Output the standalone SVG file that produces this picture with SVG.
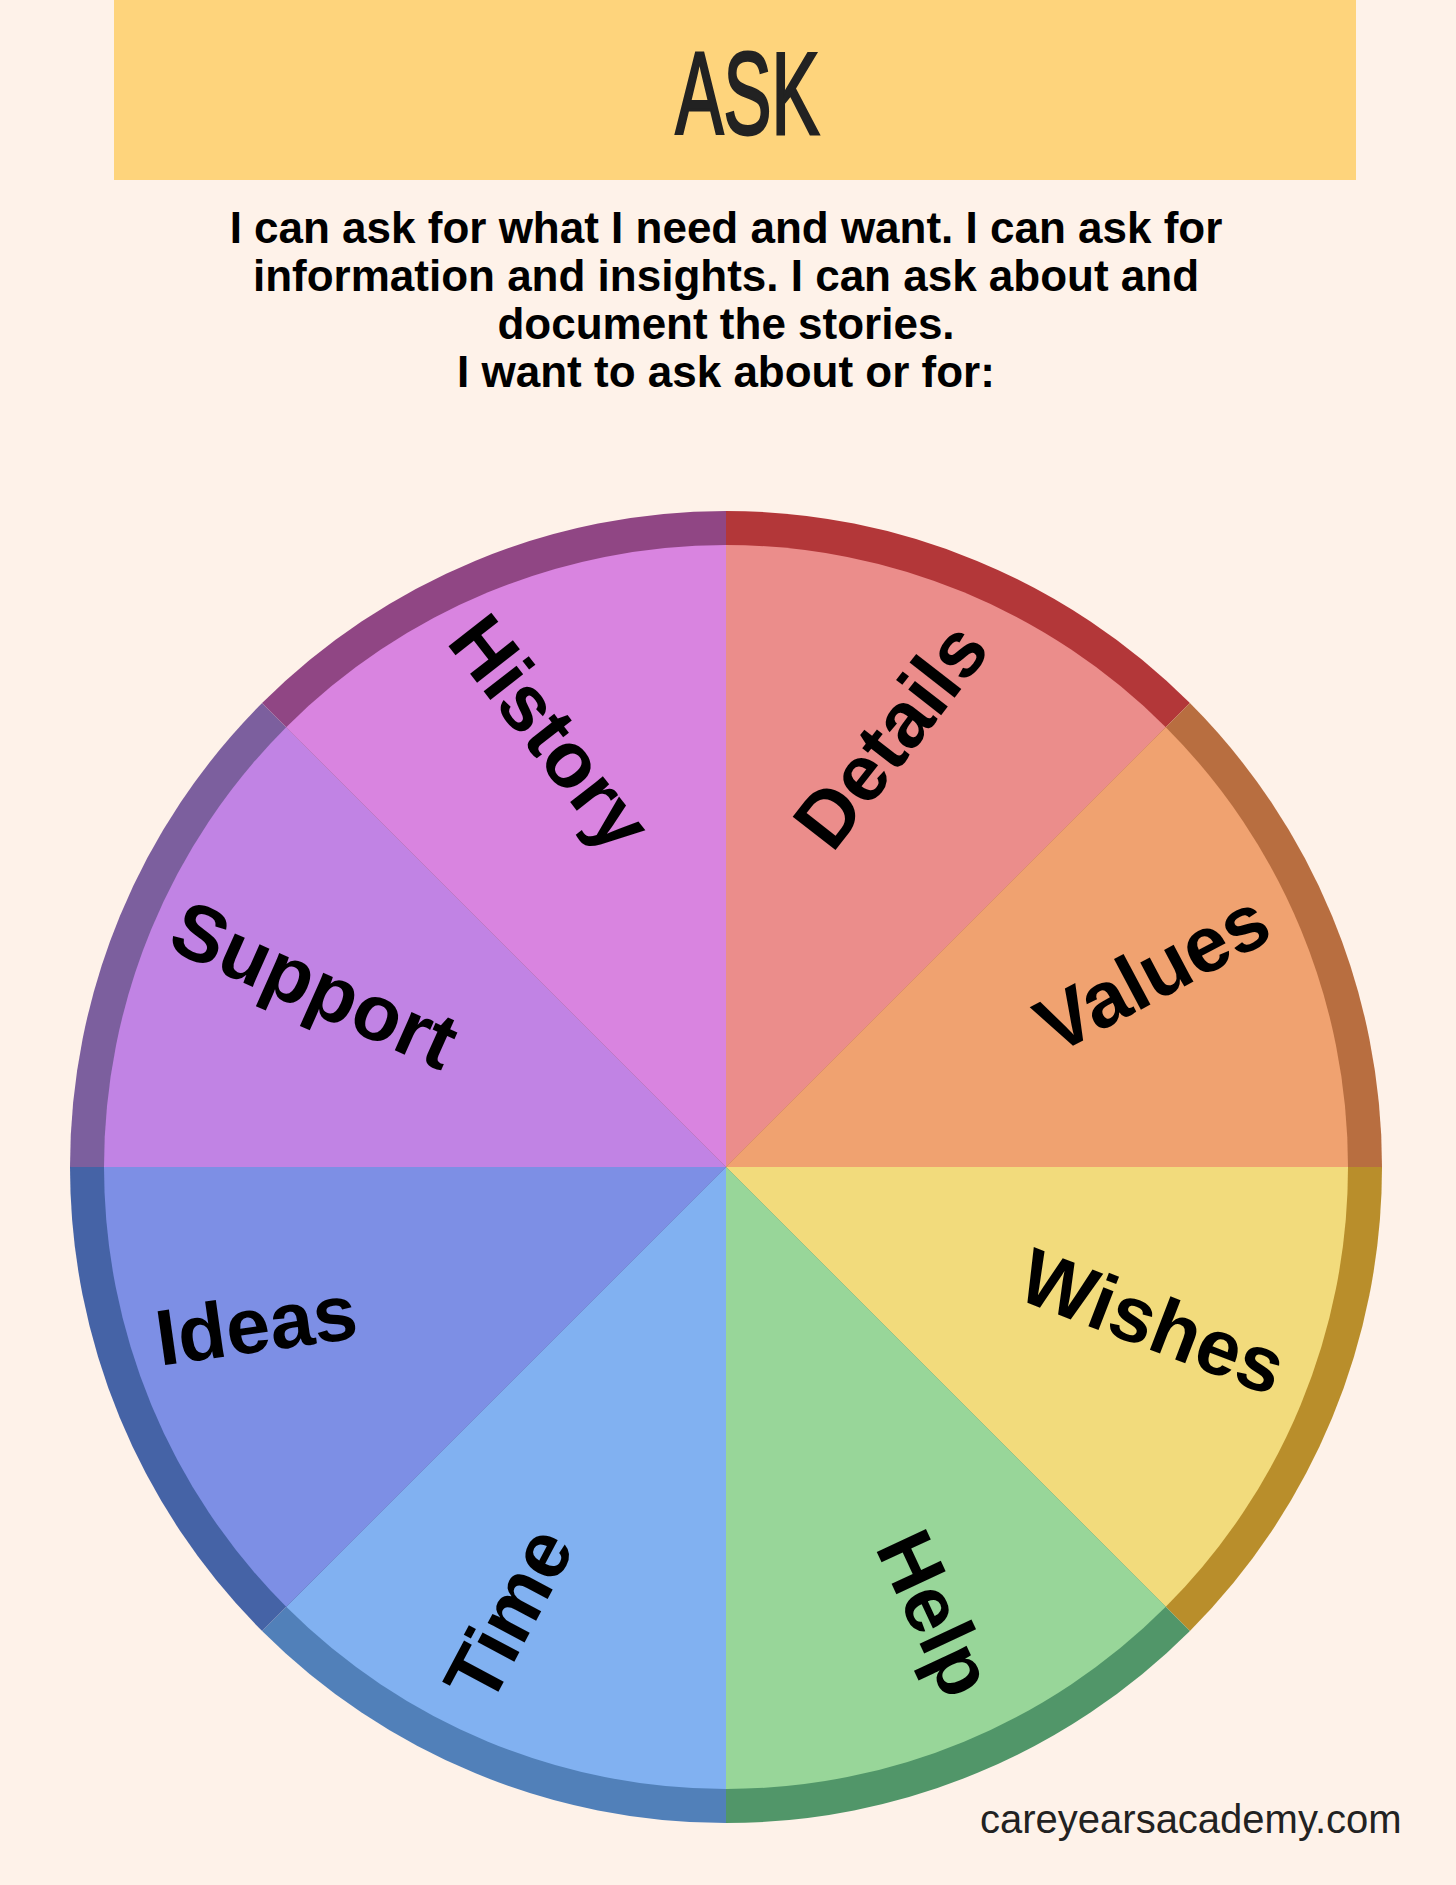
<svg xmlns="http://www.w3.org/2000/svg" width="1456" height="1885" viewBox="0 0 1456 1885">
<style>
.lbl{font-family:"Liberation Sans",Arial,sans-serif;font-weight:bold;font-size:79px;fill:#000;text-anchor:middle}
.body{font-family:"Liberation Sans",Arial,sans-serif;font-weight:bold;font-size:44px;fill:#000;text-anchor:middle}
.title{font-family:"Liberation Sans",Arial,sans-serif;font-weight:normal;font-size:116px;fill:#222;stroke:#222;stroke-width:3;text-anchor:middle}
.site{font-family:"Liberation Sans",Arial,sans-serif;font-size:40px;fill:#222}
</style>
<rect width="1456" height="1885" fill="#FEF2E9"/>
<g id="title-banner">
<rect x="114" y="0" width="1242" height="180" fill="#FED47C"/>
<text class="title" transform="translate(747.5,134) scale(0.62,1)">ASK</text>
</g>
<g id="intro-text">
<text class="body" x="726" y="243">I can ask for what I need and want. I can ask for</text>
<text class="body" x="726" y="291">information and insights. I can ask about and</text>
<text class="body" x="726" y="339">document the stories.</text>
<text class="body" x="726" y="387">I want to ask about or for:</text>
</g>
<g id="wheel">
<g id="seg-details">
<path d="M726,1167 L726,511 A656,656 0 0 1 1189.9,703.1 Z" fill="#B33739"/>
<path d="M726,1167 L726,545 A622,622 0 0 1 1165.8,727.2 Z" fill="#EB8D8B"/>
<text class="lbl" transform="translate(890,735) rotate(-52)" y="28">Details</text>
</g>
<g id="seg-values">
<path d="M726,1167 L1189.9,703.1 A656,656 0 0 1 1382,1167 Z" fill="#B86E40"/>
<path d="M726,1167 L1165.8,727.2 A622,622 0 0 1 1348,1167 Z" fill="#F0A270"/>
<text class="lbl" transform="translate(1152,972) rotate(-28)" y="28">Values</text>
</g>
<g id="seg-wishes">
<path d="M726,1167 L1382,1167 A656,656 0 0 1 1189.9,1630.9 Z" fill="#B98E2B"/>
<path d="M726,1167 L1348,1167 A622,622 0 0 1 1165.8,1606.8 Z" fill="#F2DB7C"/>
<text class="lbl" transform="translate(1153,1321) rotate(21)" y="28">Wishes</text>
</g>
<g id="seg-help">
<path d="M726,1167 L1189.9,1630.9 A656,656 0 0 1 726,1823 Z" fill="#519669"/>
<path d="M726,1167 L1165.8,1606.8 A622,622 0 0 1 726,1789 Z" fill="#98D699"/>
<text class="lbl" transform="translate(936,1613) rotate(65)" y="28">Help</text>
</g>
<g id="seg-time">
<path d="M726,1167 L726,1823 A656,656 0 0 1 262.1,1630.9 Z" fill="#5180B9"/>
<path d="M726,1167 L726,1789 A622,622 0 0 1 286.2,1606.8 Z" fill="#81B1F1"/>
<text class="lbl" transform="translate(508,1614) rotate(-62)" y="28">Time</text>
</g>
<g id="seg-ideas">
<path d="M726,1167 L262.1,1630.9 A656,656 0 0 1 70,1167 Z" fill="#4563A6"/>
<path d="M726,1167 L286.2,1606.8 A622,622 0 0 1 104,1167 Z" fill="#7D8FE5"/>
<text class="lbl" transform="translate(256,1324) rotate(-8)" y="28">Ideas</text>
</g>
<g id="seg-support">
<path d="M726,1167 L70,1167 A656,656 0 0 1 262.1,703.1 Z" fill="#7C5F9E"/>
<path d="M726,1167 L104,1167 A622,622 0 0 1 286.2,727.2 Z" fill="#C183E4"/>
<text class="lbl" transform="translate(315,984) rotate(24)" y="28">Support</text>
</g>
<g id="seg-history">
<path d="M726,1167 L262.1,703.1 A656,656 0 0 1 726,511 Z" fill="#904684"/>
<path d="M726,1167 L286.2,727.2 A622,622 0 0 1 726,545 Z" fill="#D984E0"/>
<text class="lbl" transform="translate(551,732) rotate(52)" y="28">History</text>
</g>
</g>
<g id="connectors"></g>
<text class="site" x="980" y="1833">careyearsacademy.com</text>
</svg>
